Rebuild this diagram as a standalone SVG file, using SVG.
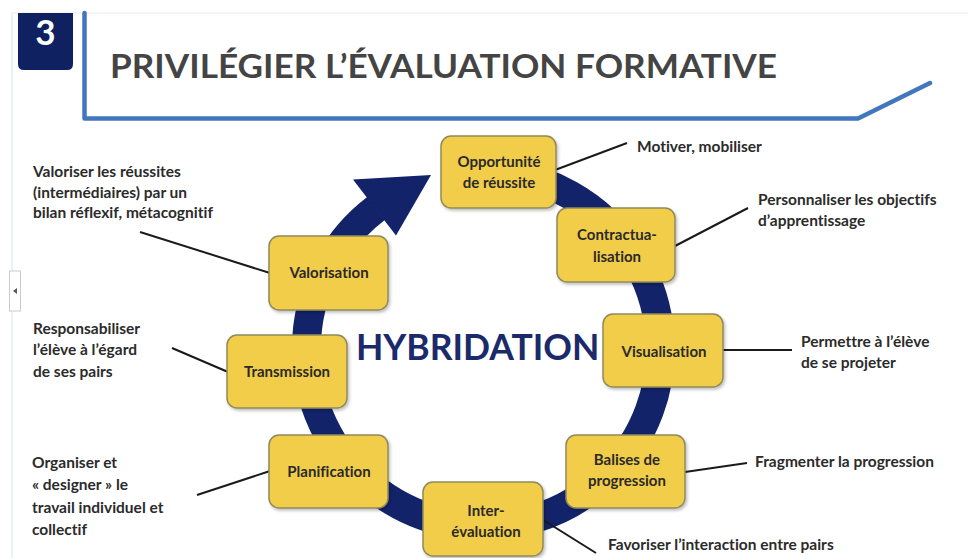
<svg xmlns="http://www.w3.org/2000/svg" width="968" height="558" viewBox="0 0 968 558">
<defs>
<filter id="sh" x="-10%" y="-10%" width="125%" height="130%">
<feDropShadow dx="1.5" dy="2" stdDeviation="1.5" flood-color="#000" flood-opacity="0.25"/>
</filter>
<style>
text{font-variant-ligatures:none;font-feature-settings:"liga" 0,"dlig" 0}
.box{fill:#f2cd48;stroke:#8f8a5c;stroke-width:1.5;filter:url(#sh)}
.nt{font-family:Lato,"Open Sans","Liberation Sans",sans-serif;font-weight:700;font-size:15px;fill:#2a2a2a;text-anchor:middle}
.an{font-family:Lato,"Open Sans","Liberation Sans",sans-serif;font-weight:700;font-size:15.5px;fill:#2b2b2b}
.ld{stroke:#1a1a1a;stroke-width:2;fill:none}
</style>
</defs>
<rect width="968" height="558" fill="#ffffff"/>
<!-- frame -->
<line x1="12" y1="13" x2="968" y2="13" stroke="#ececec" stroke-width="1"/>
<line x1="12" y1="13" x2="12" y2="558" stroke="#e6ecf2" stroke-width="1.5"/>
<rect x="9.5" y="271" width="11" height="40" fill="#ffffff" stroke="#c8ccd2" stroke-width="1"/>
<polygon points="13,291 17,288 17,294" fill="#556"/>
<!-- header -->
<g id="header">
<path d="M18 13 H73 V64 Q73 70 67 70 H24 Q18 70 18 64 Z" fill="#0f2160"/>
<text x="45.5" y="45" font-family="Lato,'Open Sans','Liberation Sans',sans-serif" font-weight="700" font-size="35" fill="#ffffff" text-anchor="middle">3</text>
<path d="M84.5 13 V118.5 H858 L930 83" fill="none" stroke="#4277bd" stroke-width="4.5" stroke-linejoin="round" stroke-linecap="round"/>
<text x="110" y="78" font-family="Lato,'Open Sans','Liberation Sans',sans-serif" font-weight="700" font-size="32" fill="#444444" textLength="667" lengthAdjust="spacingAndGlyphs">PRIVILÉGIER L’ÉVALUATION FORMATIVE</text>
</g>
<!-- cycle ring -->
<g id="cycle">
<path d="M496.4 172.7 A177 177 0 1 1 376 208.5" fill="none" stroke="#13236a" stroke-width="29"/>
<polygon points="353,179.6 431,175 396,235.6" fill="#13236a"/>
<text x="356" y="360" font-family="Lato,'Open Sans','Liberation Sans',sans-serif" font-weight="700" font-size="35.5" fill="#1b2a6b">HYBRIDATION</text>
</g>
<!-- connectors -->
<g id="connectors">
<line class="ld" x1="140" y1="232" x2="270" y2="273"/>
<line class="ld" x1="172" y1="348" x2="228" y2="372"/>
<line class="ld" x1="197" y1="495" x2="270" y2="471"/>
<line class="ld" x1="555" y1="170" x2="627" y2="143"/>
<line class="ld" x1="675" y1="246" x2="748" y2="208"/>
<line class="ld" x1="723" y1="350" x2="792" y2="350"/>
<line class="ld" x1="685" y1="472" x2="747" y2="463"/>
<line class="ld" x1="540" y1="518" x2="596" y2="553"/>
</g>
<!-- nodes -->
<g id="n-opportunite">
<rect class="box" x="441" y="136" width="115" height="72" rx="10"/>
<text class="nt" x="499" y="167">Opportunité</text>
<text class="nt" x="499" y="188">de réussite</text>
</g>
<g id="n-contractualisation">
<rect class="box" x="557" y="208" width="118" height="74" rx="10"/>
<text class="nt" x="617" y="240">Contractua-</text>
<text class="nt" x="617" y="262">lisation</text>
</g>
<g id="n-visualisation">
<rect class="box" x="603" y="314" width="120" height="73" rx="10"/>
<text class="nt" x="664" y="357">Visualisation</text>
</g>
<g id="n-balises">
<rect class="box" x="566" y="435" width="119" height="73" rx="10"/>
<text class="nt" x="627" y="465">Balises de</text>
<text class="nt" x="627" y="486">progression</text>
</g>
<g id="n-interevaluation">
<rect class="box" x="423" y="482" width="120" height="74" rx="10"/>
<text class="nt" x="486" y="516">Inter-</text>
<text class="nt" x="486" y="537">évaluation</text>
</g>
<g id="n-planification">
<rect class="box" x="269" y="435" width="119" height="73" rx="10"/>
<text class="nt" x="329" y="477">Planification</text>
</g>
<g id="n-transmission">
<rect class="box" x="227" y="335" width="120" height="73" rx="10"/>
<text class="nt" x="287" y="377">Transmission</text>
</g>
<g id="n-valorisation">
<rect class="box" x="269" y="236" width="119" height="74" rx="10"/>
<text class="nt" x="329" y="278">Valorisation</text>
</g>
<!-- annotations -->
<g id="annotations">
<text class="an" x="33" y="177">Valoriser les réussites</text>
<text class="an" x="33" y="198">(intermédiaires) par un</text>
<text class="an" x="33" y="218">bilan réflexif, métacognitif</text>
<text class="an" x="33" y="334">Responsabiliser</text>
<text class="an" x="33" y="355">l’élève à l’égard</text>
<text class="an" x="33" y="377">de ses pairs</text>
<text class="an" x="32" y="468">Organiser et</text>
<text class="an" x="32" y="490">« designer » le</text>
<text class="an" x="32" y="513">travail individuel et</text>
<text class="an" x="32" y="535">collectif</text>
<text class="an" x="637" y="152">Motiver, mobiliser</text>
<text class="an" x="758" y="205">Personnaliser les objectifs</text>
<text class="an" x="758" y="226">d’apprentissage</text>
<text class="an" x="801" y="347">Permettre à l’élève</text>
<text class="an" x="801" y="368">de se projeter</text>
<text class="an" x="755" y="467">Fragmenter la progression</text>
<text class="an" x="608" y="550">Favoriser l’interaction entre pairs</text>
</g>
</svg>
